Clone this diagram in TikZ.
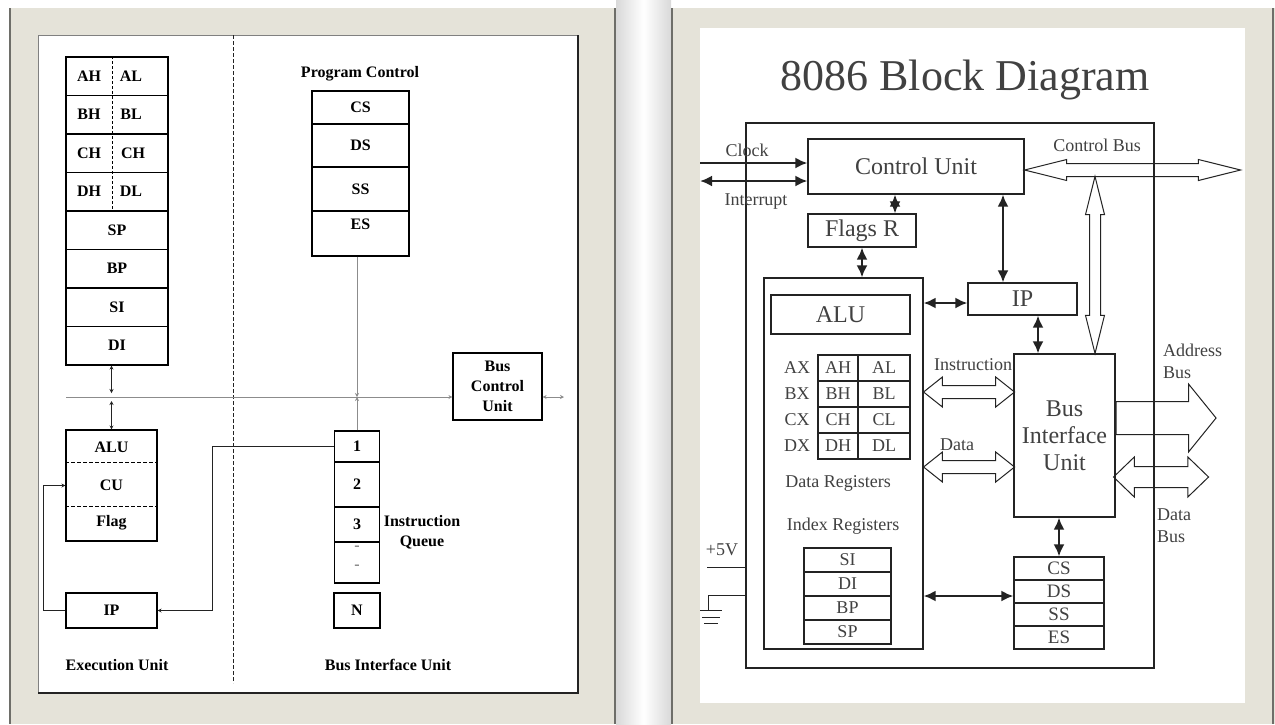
\documentclass[tikz,border=0pt]{standalone}
\usepackage{fontspec}
\setmainfont{Liberation Serif}
\usetikzlibrary{arrows.meta,shapes.arrows}
\definecolor{framebg}{RGB}{229,227,217}
\definecolor{framedark}{RGB}{110,110,105}
\definecolor{ink}{RGB}{35,35,35}
\definecolor{graytxt}{RGB}{65,65,65}
\definecolor{busgray}{RGB}{140,140,140}
\newcommand{\lfont}{\fontsize{16}{19.5}\selectfont\bfseries}
\newcommand{\rfsize}[2]{\fontsize{#1}{#2}\selectfont}
\tikzset{
  lbox/.style={draw=black, line width=1.1pt, inner sep=0pt, font=\lfont},
  ltext/.style={inner sep=0pt, font=\lfont},
  busline/.style={draw=busgray, line width=0.9pt, >={Stealth[length=4pt,width=4pt]}},
  darkline/.style={draw=ink, line width=1pt, >={Stealth[length=4pt,width=4pt]}},
  rbox/.style={draw=ink, line width=1.1pt, inner sep=0pt, text=graytxt},
  rtext/.style={inner sep=0pt, text=graytxt, font=\rfsize{18}{22}},
  thickarr/.style={draw=ink, line width=2.4pt, >={Latex[length=12pt,width=11pt]}},
  rline/.style={draw=ink, line width=1pt},
  hollowdbl/.style={double arrow, draw=ink, line width=1pt, inner xsep=0pt},
  hollowone/.style={single arrow, draw=ink, line width=1pt, inner xsep=0pt}
}
\begin{document}
\begin{tikzpicture}[x=1pt,y=-1pt]
\useasboundingbox (0,0) rectangle (1275,724);
\fill[white] (0,0) rectangle (1275,724);
\fill[framebg] (10,8) rectangle (615,724);
\draw[framedark, line width=2pt] (10,8) -- (10,724);
\draw[framedark, line width=1.5pt] (615,8) -- (615,724);
\fill[white] (38,35) rectangle (578,693);
\draw[gray, line width=0.6pt] (38,35) rectangle (578,693);
\draw[ink, line width=1.2pt] (578,35) -- (578,693) -- (38,693);
\shade[left color=gray!30, right color=gray!30, middle color=white] (616,0) rectangle (671,724);
\fill[framebg] (672,8) rectangle (1275,724);
\draw[framedark, line width=1.5pt] (672,8) -- (672,724);
\draw[framedark, line width=1.5pt] (1273,8) -- (1273,724);
\fill[white] (700,28) rectangle (1245,703);

\draw[ink, line width=1pt, dash pattern=on 4pt off 2pt] (233,35) -- (233,683);

\node[lbox, minimum width=102pt, minimum height=38.5pt] (regA) at (117,76.25) {};
\node[lbox, minimum width=102pt, minimum height=38.5pt] (regB) at (117,114.75) {};
\node[lbox, minimum width=102pt, minimum height=38.5pt] (regC) at (117,153.25) {};
\node[lbox, minimum width=102pt, minimum height=38.5pt] (regD) at (117,191.75) {};
\node[lbox, minimum width=102pt, minimum height=38.5pt] (regSP) at (117,230.25) {SP};
\node[lbox, minimum width=102pt, minimum height=38.5pt] (regBP) at (117,268.75) {BP};
\node[lbox, minimum width=102pt, minimum height=38.5pt] (regSI) at (117,307.25) {SI};
\node[lbox, minimum width=102pt, minimum height=38.5pt] (regDI) at (117,345.75) {DI};
\node[ltext] (ahT) at (89,76.25) {AH};
\node[ltext] (alT) at (131,76.25) {AL};
\node[ltext] (bhT) at (89,114.75) {BH};
\node[ltext] (blT) at (131,114.75) {BL};
\node[ltext] (chT) at (89,153.25) {CH};
\node[ltext] (clT) at (133,153.25) {CH};
\node[ltext] (dhT) at (89,191.75) {DH};
\node[ltext] (dlT) at (131,191.75) {DL};
\draw[black, line width=1pt, dash pattern=on 3pt off 2pt] ([xshift=-5pt]regA.north) -- ([xshift=-5pt]regD.south);

\node[ltext] (pcTitle) at (360,74) {Program Control};
\node[lbox, minimum width=97pt, minimum height=33pt] (pcCS) at (360.5,107.5) {CS};
\node[lbox, minimum width=97pt, minimum height=43pt] (pcDS) at (360.5,145.5) {DS};
\node[lbox, minimum width=97pt, minimum height=44pt] (pcSS) at (360.5,189) {SS};
\node[lbox, minimum width=97pt, minimum height=45pt] (pcES) at (360.5,233.5) {};
\node[ltext] (esT) at (360.5,224) {ES};

\node[lbox, minimum width=89pt, minimum height=67pt, align=center, font=\fontsize{16}{20}\selectfont\bfseries] (bcu) at (497.5,386.5) {Bus\\Control\\Unit};

\node[lbox, minimum width=45pt, minimum height=31pt] (q1) at (357,446.5) {1};
\node[lbox, minimum width=45pt, minimum height=45pt] (q2) at (357,484.5) {2};
\node[lbox, minimum width=45pt, minimum height=35pt] (q3) at (357,524.5) {3};
\node[lbox, minimum width=45pt, minimum height=41pt] (qDots) at (357,562.5) {};
\node[ltext, text=gray] (qd1) at (357,548) {-};
\node[ltext, text=gray] (qd2) at (357,567) {-};
\node[lbox, minimum width=46pt, minimum height=35pt] (qN) at (357,610.5) {N};
\node[ltext, align=center] (iqT) at (422,532) {Instruction\\Queue};

\node[lbox, minimum width=91pt, minimum height=111pt] (euAlu) at (111.5,485.5) {};
\node[ltext] (aluT) at (111.5,447) {ALU};
\node[ltext] (cuT) at (111.5,485) {CU};
\node[ltext] (flagT) at (111.5,523) {Flag};
\draw[black, line width=1pt, dash pattern=on 4pt off 2pt] ([yshift=-33pt]euAlu.north west) -- ([yshift=-33pt]euAlu.north east);
\draw[black, line width=1pt, dash pattern=on 4pt off 2pt] ([yshift=-77pt]euAlu.north west) -- ([yshift=-77pt]euAlu.north east);
\node[lbox, minimum width=91pt, minimum height=35pt] (euIp) at (111.5,610.5) {IP};

\coordinate (busW) at (66,397);
\coordinate (busE) at (564,397);
\draw[busline, ->] (busW) -- (busW -| bcu.west);
\draw[busline, <->] (bcu.east |- busW) -- (busE);
\draw[darkline, <->] (regDI.south -| euAlu.north) -- ([yshift=4pt]busW -| euAlu.north);
\draw[darkline, <->] (euAlu.north) -- ([yshift=-4pt]busW -| euAlu.north);
\draw[busline, ->] (pcES.south -| q1.north) -- (busW -| q1.north);
\draw[busline, ->] (q1.north) -- (busW -| q1.north);
\draw[darkline, ->] (euIp.west) -- ++(-22,0) |- (euAlu.west);
\draw[darkline, ->] (q1.west) -- ++(-121,0) |- (euIp.east);

\node[ltext] (euLbl) at (117,665) {Execution Unit};
\node[ltext] (biuLbl) at (388,665) {Bus Interface Unit};

\node[inner sep=0pt, text=graytxt, font=\rfsize{44}{48}] (title) at (965,80) {8086 Block Diagram};
\node[rbox, minimum width=408pt, minimum height=545pt] (sys) at (950,395.5) {};
\node[rbox, minimum width=216pt, minimum height=55pt, font=\rfsize{24}{28}] (cu) at (916,166.5) {Control Unit};
\node[rbox, minimum width=108pt, minimum height=33pt, font=\rfsize{24}{28}] (flags) at (862,230.5) {Flags R};
\node[rbox, minimum width=159pt, minimum height=371pt] (eu) at (843.5,463.5) {};
\node[rbox, minimum width=139pt, minimum height=39pt, font=\rfsize{24}{28}] (alu) at (840.5,314.5) {ALU};

\node[rbox, minimum width=40pt, minimum height=26pt, font=\rfsize{18}{22}] (ah) at (838,368) {AH};
\node[rbox, minimum width=52pt, minimum height=26pt, font=\rfsize{18}{22}] (al) at (884,368) {AL};
\node[rbox, minimum width=40pt, minimum height=26pt, font=\rfsize{18}{22}] (bh) at (838,394) {BH};
\node[rbox, minimum width=52pt, minimum height=26pt, font=\rfsize{18}{22}] (bl) at (884,394) {BL};
\node[rbox, minimum width=40pt, minimum height=26pt, font=\rfsize{18}{22}] (ch) at (838,420) {CH};
\node[rbox, minimum width=52pt, minimum height=26pt, font=\rfsize{18}{22}] (cl) at (884,420) {CL};
\node[rbox, minimum width=40pt, minimum height=26pt, font=\rfsize{18}{22}] (dh) at (838,446) {DH};
\node[rbox, minimum width=52pt, minimum height=26pt, font=\rfsize{18}{22}] (dl) at (884,446) {DL};
\node[rtext] (ax) at (797,368) {AX};
\node[rtext] (bx) at (797,394) {BX};
\node[rtext] (cx) at (797,420) {CX};
\node[rtext] (dx) at (797,446) {DX};
\node[rtext] (dataRegT) at (838,483) {Data Registers};
\node[rtext] (idxRegT) at (843,526) {Index Registers};

\node[rbox, minimum width=87pt, minimum height=24pt, font=\rfsize{18}{22}] (si) at (847.5,560) {SI};
\node[rbox, minimum width=87pt, minimum height=24pt, font=\rfsize{18}{22}] (di) at (847.5,584) {DI};
\node[rbox, minimum width=87pt, minimum height=24pt, font=\rfsize{18}{22}] (bp) at (847.5,608) {BP};
\node[rbox, minimum width=87pt, minimum height=24pt, font=\rfsize{18}{22}] (sp) at (847.5,632) {SP};

\node[rbox, minimum width=109pt, minimum height=32pt, font=\rfsize{24}{28}] (ip) at (1022.5,299) {IP};
\node[rbox, minimum width=101pt, minimum height=163pt, align=center, font=\rfsize{24}{27}] (biu) at (1064.5,435.5) {Bus\\Interface\\Unit};

\node[rbox, minimum width=90pt, minimum height=23pt, font=\rfsize{19}{22}] (cs) at (1059,568.5) {CS};
\node[rbox, minimum width=90pt, minimum height=23pt, font=\rfsize{19}{22}] (ds) at (1059,591.5) {DS};
\node[rbox, minimum width=90pt, minimum height=23pt, font=\rfsize{19}{22}] (ss) at (1059,614.5) {SS};
\node[rbox, minimum width=90pt, minimum height=23pt, font=\rfsize{19}{22}] (es) at (1059,637.5) {ES};

\node[rtext] (clockT) at (747,150) {Clock};
\node[rtext] (intT) at (756,202) {Interrupt};
\node[rtext] (ctrlBusT) at (1097,145) {Control Bus};
\node[rtext] (instrT) at (973,365) {Instruction};
\node[rtext] (dataT) at (957,445) {Data};
\node[rtext, anchor=west, align=left] (addrT) at (1163,361) {Address\\Bus};
\node[rtext, anchor=west, align=left] (dataBusT) at (1157,526) {Data\\Bus};
\node[rtext] (pwrT) at (722,550) {+5V};

\coordinate (clkIn) at (700,163);
\coordinate (intIn) at (700,181);
\draw[thickarr, ->] (clkIn) -- (clkIn -| cu.west);
\draw[thickarr, <->] (intIn) -- (intIn -| cu.west);
\coordinate (cuFl) at ([xshift=33pt]flags.north);
\draw[thickarr, <->] (cuFl) -- (cuFl |- cu.south);
\draw[thickarr, <->] (flags.south) -- (flags.south |- eu.north);
\coordinate (ipW) at ([yshift=-4pt]ip.west);
\draw[thickarr, <->] (ipW -| eu.east) -- (ipW);
\coordinate (cuIp) at ([xshift=-19.5pt]ip.north);
\draw[thickarr, <->] (cuIp) -- (cuIp |- cu.south);
\coordinate (ipBiu) at ([xshift=15.5pt]ip.south);
\draw[thickarr, <->] (ipBiu) -- (ipBiu |- biu.north);
\draw[thickarr, <->] (cs.north) -- (cs.north |- biu.south);
\coordinate (idxSeg) at ([yshift=-4.5pt]ds.west);
\draw[thickarr, <->] (idxSeg -| eu.east) -- (idxSeg);

\node[hollowdbl, minimum height=216pt, minimum width=20pt, inner ysep=6pt, double arrow head extend=4pt, double arrow tip angle=28] (ctrlBus) at ([xshift=108pt,yshift=-3.5pt]cu.east) {};
\node[hollowdbl, rotate=90, minimum height=177pt, minimum width=18pt, inner ysep=5pt, double arrow head extend=4pt, double arrow tip angle=28] (biuCtrl) at ([xshift=30.5pt,yshift=88.5pt]biu.north) {};
\node[hollowdbl, minimum height=91pt, minimum width=29pt, inner ysep=6pt, double arrow head extend=8.5pt, double arrow tip angle=77] (instrBus) at ([xshift=45.5pt,yshift=71.5pt]eu.east) {};
\node[hollowdbl, minimum height=91pt, minimum width=29pt, inner ysep=6pt, double arrow head extend=8.5pt, double arrow tip angle=77] (dataPath) at ([xshift=45.5pt,yshift=-3.5pt]eu.east) {};
\node[hollowone, anchor=tail, minimum height=100pt, minimum width=67pt, inner ysep=16pt, single arrow head extend=17.5pt, single arrow tip angle=102] (addrBus) at ([yshift=17.5pt]biu.east) {};
\node[hollowdbl, minimum height=95pt, minimum width=39pt, inner ysep=10pt, double arrow head extend=9.5pt, double arrow tip angle=88] (dataBus) at ([xshift=45.5pt,yshift=-41.5pt]biu.east) {};

\coordinate (pwr) at (707,567);
\coordinate (gnd) at (708,610);
\coordinate (gndTap) at ([yshift=-199.5pt]sys.west);
\draw[rline] (pwr) -- (pwr -| sys.west);
\draw[rline] (gndTap) -| (gnd);
\draw[rline] (gnd) ++(-8,0) -- ++(22,0);
\draw[rline] (gnd) ++(-6,7) -- ++(18,0);
\draw[rline] (gnd) ++(-4,13) -- ++(14,0);
\end{tikzpicture}
\end{document}
